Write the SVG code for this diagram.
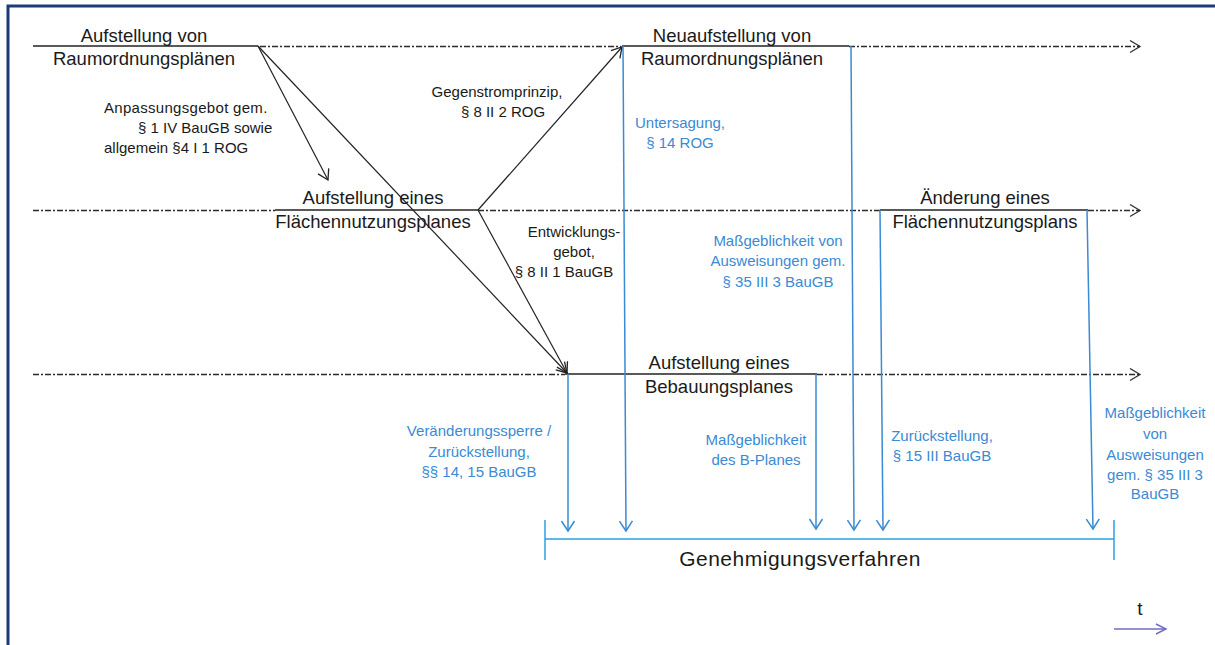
<svg xmlns="http://www.w3.org/2000/svg" width="1215" height="645" viewBox="0 0 1215 645">
<defs>
<marker id="ak" markerUnits="userSpaceOnUse" markerWidth="14" markerHeight="14" refX="11" refY="7" orient="auto"><path d="M1,1 L11,7 L1,13" fill="none" stroke="#222" stroke-width="1.3"/></marker>
<marker id="ag" markerUnits="userSpaceOnUse" markerWidth="14" markerHeight="14" refX="11" refY="7" orient="auto"><path d="M1,1 L11,7 L1,13" fill="none" stroke="#333" stroke-width="1.3"/></marker>
<marker id="ab" markerUnits="userSpaceOnUse" markerWidth="14" markerHeight="16" refX="11" refY="8" orient="auto"><path d="M1,1.5 L11,8 L1,14.5" fill="none" stroke="#3a8ad4" stroke-width="1.5"/></marker>
<marker id="ap" markerUnits="userSpaceOnUse" markerWidth="14" markerHeight="14" refX="11" refY="7" orient="auto"><path d="M1,2 L11,7 L1,12" fill="none" stroke="#6c6cc4" stroke-width="1.4"/></marker>
</defs>
<style>
text{font-family:"Liberation Sans",Arial,sans-serif;fill:#1a1a1a}
.big{font-size:18.5px}
.sm{font-size:15px}
.bl{fill:#3a8ad4}
.c{text-anchor:middle}
.dd{stroke:#2a2a2a;stroke-width:1.3;stroke-dasharray:6 2 2 2;fill:none}
.sol{stroke:#222;stroke-width:1.5;fill:none}
.blk{stroke:#222;stroke-width:1.2;fill:none}
.blu{stroke:#3a8ad4;stroke-width:1.5;fill:none}
</style>
<rect x="8" y="6" width="1230" height="660" fill="#fff" stroke="#1f3a78" stroke-width="3"/>

<g id="timelines">
<line class="dd" x1="260" y1="46.5" x2="621" y2="46.5"/>
<line class="dd" x1="849" y1="46.5" x2="1140" y2="46.5" marker-end="url(#ag)"/>
<line class="dd" x1="33" y1="210.5" x2="275" y2="210.5"/>
<line class="dd" x1="478" y1="210.5" x2="880" y2="210.5"/>
<line class="dd" x1="1088" y1="210.5" x2="1140" y2="210.5" marker-end="url(#ag)"/>
<line class="dd" x1="33" y1="374.5" x2="565" y2="374.5"/>
<line class="dd" x1="817" y1="374.5" x2="1140" y2="374.5" marker-end="url(#ag)"/>
</g>

<g id="node-rop">
<line class="sol" x1="33" y1="46" x2="258" y2="46"/>
<text class="big c" x="144" y="42">Aufstellung von</text>
<text class="big c" x="144" y="65">Raumordnungsplänen</text>
</g>

<g id="node-fnp">
<line class="sol" x1="275" y1="210" x2="478" y2="210"/>
<text class="big c" x="373" y="204">Aufstellung eines</text>
<text class="big c" x="373" y="228">Flächennutzungsplanes</text>
</g>

<g id="node-neu-rop">
<line class="sol" x1="622" y1="46" x2="849" y2="46"/>
<text class="big c" x="732" y="42">Neuaufstellung von</text>
<text class="big c" x="732" y="65">Raumordnungsplänen</text>
</g>

<g id="node-aend-fnp">
<line class="sol" x1="880" y1="210" x2="1088" y2="210"/>
<text class="big c" x="985" y="204">Änderung eines</text>
<text class="big c" x="985" y="228">Flächennutzungsplans</text>
</g>

<g id="node-bplan">
<line class="sol" x1="565" y1="374" x2="817" y2="374"/>
<text class="big c" x="719" y="369">Aufstellung eines</text>
<text class="big c" x="719" y="393">Bebauungsplanes</text>
</g>

<g id="node-genehmigung">
<line stroke="#2aa0e2" stroke-width="1.5" x1="545" y1="539" x2="1114" y2="539"/>
<line stroke="#2aa0e2" stroke-width="1.5" x1="545" y1="520" x2="545" y2="560"/>
<line stroke="#2aa0e2" stroke-width="1.5" x1="1114" y1="520" x2="1114" y2="560"/>
<text class="c" x="800" y="566" style="font-size:21px;letter-spacing:0.5px">Genehmigungsverfahren</text>
</g>

<g id="connectors">
<line class="blk" x1="258" y1="46" x2="328" y2="180" marker-end="url(#ak)"/>
<line class="blk" x1="258" y1="46" x2="567" y2="373" marker-end="url(#ak)"/>
<line class="blk" x1="478" y1="210" x2="622" y2="47" marker-end="url(#ak)"/>
<line class="blk" x1="478" y1="210" x2="567" y2="373" marker-end="url(#ak)"/>
<line class="blu" x1="568" y1="374" x2="568" y2="531" marker-end="url(#ab)"/>
<line class="blu" x1="623" y1="46" x2="626" y2="531" marker-end="url(#ab)"/>
<line class="blu" x1="816" y1="374" x2="816" y2="529" marker-end="url(#ab)"/>
<line class="blu" x1="851" y1="46" x2="854" y2="530" marker-end="url(#ab)"/>
<line class="blu" x1="880" y1="210" x2="883" y2="530" marker-end="url(#ab)"/>
<line class="blu" x1="1087" y1="210" x2="1093" y2="529" marker-end="url(#ab)"/>
</g>

<g id="labels">
<text class="sm" x="104" y="113" style="letter-spacing:0.3px">Anpassungsgebot gem.</text>
<text class="sm" x="138" y="133">§ 1 IV BauGB sowie</text>
<text class="sm" x="104" y="153">allgemein §4 I 1 ROG</text>
<text class="sm c" x="497" y="97">Gegenstromprinzip,</text>
<text class="sm c" x="503" y="117">§ 8 II 2 ROG</text>
<text class="sm c" x="574" y="237">Entwicklungs-</text>
<text class="sm c" x="574" y="257">gebot,</text>
<text class="sm c" x="564" y="277">§ 8 II 1 BauGB</text>
<text class="sm bl c" x="680" y="128">Untersagung,</text>
<text class="sm bl c" x="680" y="148">§ 14 ROG</text>
<text class="sm bl c" x="778" y="246">Maßgeblichkeit von</text>
<text class="sm bl c" x="778" y="266">Ausweisungen gem.</text>
<text class="sm bl c" x="778" y="287">§ 35 III 3 BauGB</text>
<text class="sm bl c" x="479" y="436">Veränderungssperre /</text>
<text class="sm bl c" x="479" y="457">Zurückstellung,</text>
<text class="sm bl c" x="479" y="477">§§ 14, 15 BauGB</text>
<text class="sm bl c" x="756" y="445">Maßgeblichkeit</text>
<text class="sm bl c" x="756" y="465">des B-Planes</text>
<text class="sm bl c" x="942" y="441">Zurückstellung,</text>
<text class="sm bl c" x="942" y="461">§ 15 III BauGB</text>
<text class="sm bl c" x="1155" y="418">Maßgeblichkeit</text>
<text class="sm bl c" x="1155" y="439">von</text>
<text class="sm bl c" x="1155" y="460">Ausweisungen</text>
<text class="sm bl c" x="1155" y="480">gem. § 35 III 3</text>
<text class="sm bl c" x="1155" y="499">BauGB</text>
</g>

<g id="time-axis">
<text class="c" x="1140" y="615" style="font-size:19px">t</text>
<line stroke="#6c6cc4" stroke-width="1.4" x1="1114" y1="629" x2="1166" y2="629" marker-end="url(#ap)"/>
</g>
</svg>
